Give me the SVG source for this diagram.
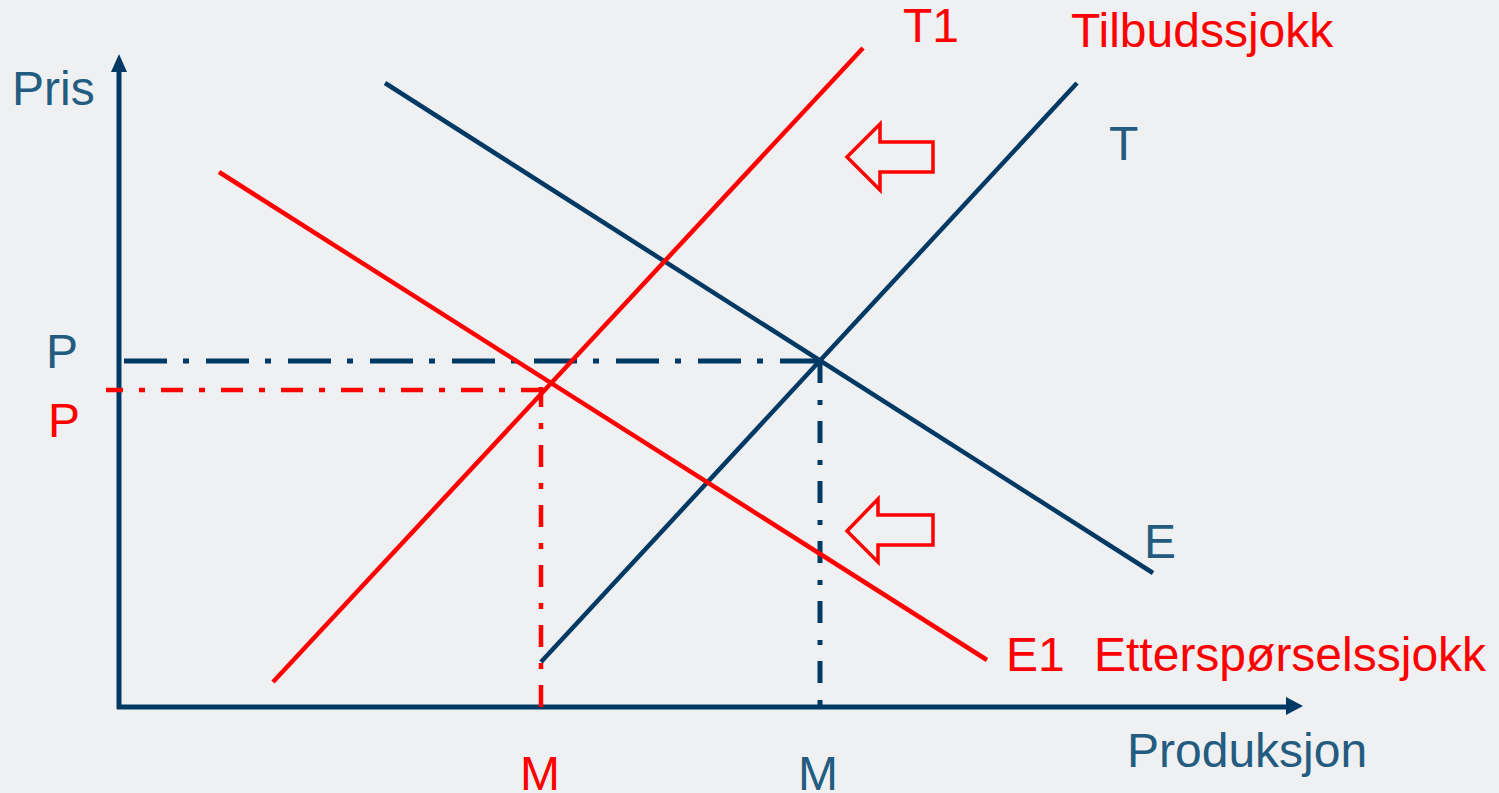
<svg xmlns="http://www.w3.org/2000/svg" width="1499" height="793" viewBox="0 0 1499 793">
<style>
.bg{fill:#EFF0F2}
.ax{stroke:#003A64;stroke-width:5;fill:none}
.bl{stroke:#003A64;stroke-width:4.5;fill:none}
.rd{stroke:#FF0000;stroke-width:4.5;fill:none}
.bdh{stroke:#003A64;stroke-width:5;fill:none;stroke-dasharray:43 16 6 17}
.bdv{stroke:#003A64;stroke-width:5;fill:none;stroke-dasharray:22 17 5 16}
.rdd{stroke:#FF0000;stroke-width:4.5;fill:none;stroke-dasharray:22 16 6 16}
.ha{fill:none;stroke:#FF0000;stroke-width:3.5}
.tb{font-family:"Liberation Sans",Arial,sans-serif;font-size:48px;fill:#235C80}
.tr{font-family:"Liberation Sans",Arial,sans-serif;font-size:48px;fill:#FF0000}
</style>
<rect class="bg" x="0" y="0" width="1499" height="793"/>
<g id="axes">
<line class="ax" x1="119" y1="709" x2="119" y2="68"/>
<polygon points="119,54 127,72 111,72" fill="#003A64"/>
<line class="ax" x1="117" y1="707" x2="1290" y2="707"/>
<polygon points="1303,706 1286,697 1286,715" fill="#003A64"/>
</g>
<g id="connectors">
<line class="bdh" x1="124" y1="361" x2="820" y2="361"/>
<line class="bdv" x1="820" y1="361" x2="820" y2="707"/>
<line class="rdd" x1="106" y1="390" x2="546" y2="390" stroke-dashoffset="5"/>
<line class="rdd" x1="541" y1="387" x2="541" y2="707" stroke-dashoffset="2"/>
</g>
<g id="curve-E"><line class="bl" x1="385" y1="83" x2="1153" y2="573"/></g>
<g id="curve-T"><line class="bl" x1="541" y1="662" x2="1077" y2="83"/></g>
<g id="curve-T1"><line class="rd" x1="273" y1="682" x2="863" y2="48"/></g>
<g id="curve-E1"><line class="rd" x1="219" y1="172" x2="987" y2="660"/></g>
<g id="arrow-top"><polygon class="ha" points="847,157 880,124 880,142 933,142 933,172 880,172 880,190"/></g>
<g id="arrow-bottom"><polygon class="ha" points="847,531 878,499 878,515 933,515 933,545 878,545 878,562"/></g>
<g id="labels">
<text class="tb" x="12" y="105">Pris</text>
<text class="tb" x="1127" y="767">Produksjon</text>
<text class="tb" x="46" y="368">P</text>
<text class="tr" x="48" y="437">P</text>
<text class="tr" x="520" y="790">M</text>
<text class="tb" x="798" y="790">M</text>
<text class="tb" x="1109" y="160">T</text>
<text class="tb" x="1144" y="558">E</text>
<text class="tr" x="903" y="42">T1</text>
<text class="tr" x="1071" y="47">Tilbudssjokk</text>
<text class="tr" x="1006" y="671">E1</text>
<text class="tr" x="1094" y="671">Etterspørselssjokk</text>
</g>
</svg>
